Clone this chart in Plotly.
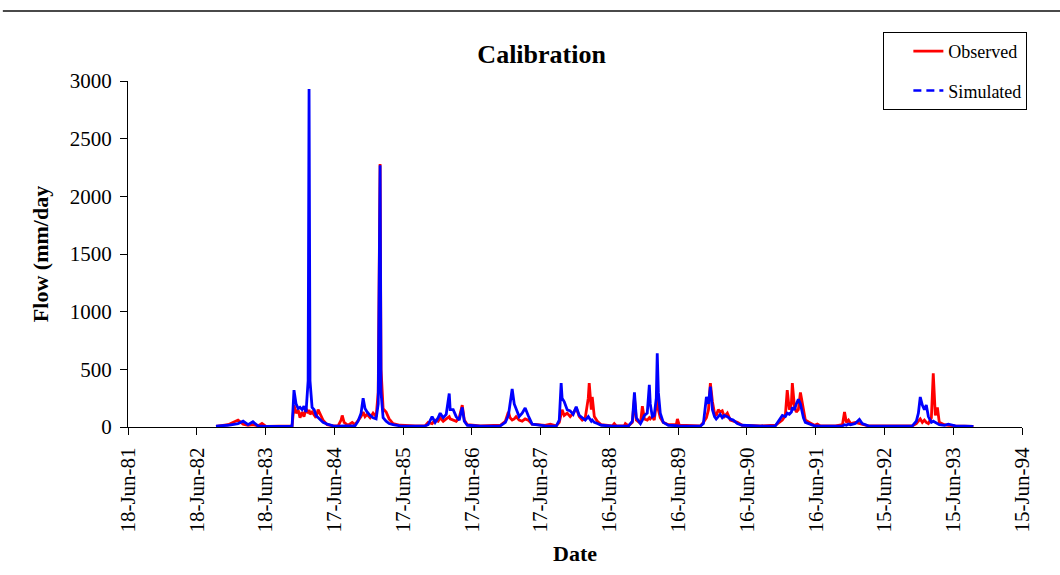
import plotly.graph_objects as go

# ---- data ----
dates = [
    "1982-09-28", "1982-12-01", "1983-01-23", "1983-02-19", "1983-03-17", "1983-04-12",
    "1983-05-09", "1983-05-30", "1983-06-20", "1983-10-25", "1983-11-06", "1983-11-16",
    "1983-11-27", "1983-12-08", "1983-12-18", "1983-12-29", "1984-01-08", "1984-01-19",
    "1984-01-30", "1984-02-04", "1984-02-09", "1984-02-20", "1984-03-02", "1984-03-12",
    "1984-03-23", "1984-04-03", "1984-04-18", "1984-05-10", "1984-06-11", "1984-07-07",
    "1984-07-23", "1984-07-29", "1984-08-08", "1984-08-29", "1984-09-20", "1984-10-05",
    "1984-10-21", "1984-11-06", "1984-11-17", "1984-11-27", "1984-12-08", "1984-12-24",
    "1985-01-09", "1985-01-25", "1985-02-05", "1985-02-15", "1985-02-20", "1985-03-03",
    "1985-03-19", "1985-04-04", "1985-04-25", "1985-06-01", "1985-08-20", "1985-10-12",
    "1985-10-28", "1985-11-18", "1985-12-04", "1985-12-20", "1985-12-31", "1986-01-16",
    "1986-02-01", "1986-02-17", "1986-02-22", "1986-03-10", "1986-03-26", "1986-04-11",
    "1986-04-27", "1986-05-08", "1986-05-24", "1986-08-01", "1986-11-15", "1986-12-12",
    "1986-12-28", "1987-01-06", "1987-01-17", "1987-01-28", "1987-02-07", "1987-02-23",
    "1987-03-11", "1987-03-27", "1987-04-12", "1987-05-03", "1987-07-11", "1987-08-07",
    "1987-09-08", "1987-09-24", "1987-10-04", "1987-10-09", "1987-10-20", "1987-11-05",
    "1987-11-21", "1987-12-07", "1987-12-23", "1988-01-08", "1988-01-24", "1988-02-09",
    "1988-02-25", "1988-03-01", "1988-03-12", "1988-03-17", "1988-03-28", "1988-04-13",
    "1988-05-04", "1988-07-02", "1988-07-12", "1988-07-23", "1988-09-03", "1988-09-09",
    "1988-09-25", "1988-10-16", "1988-10-27", "1988-11-06", "1988-11-28", "1988-12-08",
    "1988-12-19", "1989-01-03", "1989-01-14", "1989-01-19", "1989-01-30", "1989-02-09",
    "1989-02-20", "1989-02-25", "1989-03-03", "1989-03-13", "1989-03-29", "1989-04-25",
    "1989-06-06", "1989-06-12", "1989-06-22", "1989-10-12", "1989-10-28", "1989-11-13",
    "1989-11-24", "1989-12-04", "1989-12-15", "1989-12-26", "1990-01-04", "1990-01-15",
    "1990-01-25", "1990-02-05", "1990-02-16", "1990-03-04", "1990-03-20", "1990-04-04",
    "1990-04-26", "1990-05-22", "1990-08-26", "1990-11-14", "1990-12-05", "1990-12-21",
    "1991-01-06", "1991-01-16", "1991-01-27", "1991-02-07", "1991-02-12", "1991-02-23",
    "1991-03-05", "1991-03-16", "1991-03-27", "1991-04-06", "1991-04-12", "1991-04-22",
    "1991-05-13", "1991-06-09", "1991-06-25", "1991-07-11", "1991-09-29", "1991-11-05",
    "1991-11-16", "1991-11-26", "1991-12-07", "1991-12-18", "1992-01-12", "1992-02-03",
    "1992-02-18", "1992-03-21", "1992-07-16", "1992-11-10", "1992-12-01", "1992-12-12",
    "1992-12-22", "1993-01-02", "1993-01-13", "1993-01-23", "1993-02-03", "1993-02-19",
    "1993-03-01", "1993-03-12", "1993-03-23", "1993-04-02", "1993-04-29", "1993-05-20",
    "1993-06-26", "1993-09-30",
]

observed = [
    5, 20, 60, 25, 15, 20,
    10, 30, 5, 5, 10, 190,
    120, 150, 80, 130, 90, 160,
    120, 150, 110, 130, 100, 80,
    150, 110, 60, 20, 10, 10,
    60, 100, 40, 15, 40, 20,
    60, 90, 130, 90, 110, 80,
    120, 90, 300, 2280, 500, 160,
    130, 70, 30, 15, 10, 10,
    40, 30, 60, 50, 80, 50,
    70, 90, 70, 60, 50, 80,
    190, 60, 20, 10, 15, 50,
    130, 80, 60, 70, 90, 60,
    50, 70, 60, 25, 15, 25,
    10, 40, 100, 150, 100, 120,
    90, 120, 165, 90, 60, 80,
    250, 380, 150, 260, 90, 50,
    20, 10, 30, 10, 10, 30,
    10, 40, 250, 60, 30, 180,
    70, 60, 80, 70, 90, 60,
    200, 300, 150, 80, 40, 20,
    20, 70, 15, 10, 40, 80,
    150, 380, 220, 120, 100, 150,
    130, 140, 90, 120, 60, 50,
    40, 15, 10, 15, 40, 60,
    100, 320, 150, 200, 380, 180,
    130, 150, 300, 200, 180, 60,
    40, 15, 25, 10, 10, 20,
    130, 40, 60, 30, 40, 30,
    20, 10, 10, 10, 30, 50,
    70, 40, 60, 40, 30, 80,
    465, 100, 170, 40, 20, 15,
    10, 5,
]

simulated = [
    8, 15, 30, 50, 20, 45,
    10, 8, 5, 5, 10, 320,
    200, 160, 170, 150, 180, 130,
    400, 2930, 400, 170, 150, 100,
    80, 60, 40, 25, 10, 8,
    10, 15, 10, 10, 10, 10,
    50, 120, 250, 160, 130, 100,
    80, 70, 200, 2270, 300, 80,
    50, 30, 20, 10, 8, 10,
    20, 90, 40, 80, 120, 80,
    110, 290, 150, 150, 90, 60,
    170, 50, 15, 8, 10, 40,
    100, 200, 330, 200, 160, 90,
    120, 165, 100, 25, 10, 10,
    8, 60, 380, 250, 220, 150,
    140, 110, 175, 100, 80, 60,
    90, 80, 50, 60, 40, 30,
    15, 8, 8, 8, 10, 10,
    8, 50, 300, 80, 30, 60,
    100, 120, 365, 200, 90, 100,
    250, 640, 300, 120, 40, 15,
    10, 15, 10, 8, 30, 260,
    200, 350, 150, 90, 70, 90,
    110, 80, 100, 90, 70, 60,
    30, 15, 8, 10, 60, 100,
    90, 120, 110, 130, 170, 150,
    200, 240, 200, 120, 80, 40,
    25, 10, 10, 8, 8, 10,
    20, 15, 25, 20, 30, 65,
    30, 10, 8, 10, 50, 120,
    260, 190, 150, 190, 90, 40,
    50, 40, 30, 20, 15, 25,
    10, 5,
]

tick_dates = [
    "1981-06-18", "1982-06-18", "1983-06-18", "1984-06-17", "1985-06-17",
    "1986-06-17", "1987-06-17", "1988-06-16", "1989-06-16", "1990-06-16",
    "1991-06-16", "1992-06-15", "1993-06-15", "1994-06-15",
]
tick_labels = [
    "18-Jun-81", "18-Jun-82", "18-Jun-83", "17-Jun-84", "17-Jun-85",
    "17-Jun-86", "17-Jun-87", "16-Jun-88", "16-Jun-89", "16-Jun-90",
    "16-Jun-91", "15-Jun-92", "15-Jun-93", "15-Jun-94",
]
y_ticks = [0, 500, 1000, 1500, 2000, 2500, 3000]

RED = "#ff0000"
BLUE = "#0000ff"
FONT = "Liberation Serif"

fig = go.Figure()
fig.add_trace(go.Scatter(
    x=dates, y=observed, mode="lines", name="Observed",
    line=dict(color=RED, width=2.8), legendgroup="obs",
))
fig.add_trace(go.Scatter(
    x=dates, y=simulated, mode="lines", name="Simulated",
    line=dict(color=BLUE, width=2.8), showlegend=False, legendgroup="sim",
))
# legend entry for the simulated series (dashed, as in the reference legend)
fig.add_trace(go.Scatter(
    x=[None], y=[None], mode="lines", name="Simulated",
    line=dict(color=BLUE, width=2.5, dash="8px,5px"), legendgroup="sim",
))

fig.update_layout(
    width=1060, height=575,
    margin=dict(l=128, r=38, t=81, b=148),
    paper_bgcolor="white", plot_bgcolor="white",
    font=dict(family=FONT, color="black", size=21),
    title=dict(text="<b>Calibration</b>", x=0.511, xref="container",
               y=1 - 54 / 575, yref="container", yanchor="middle", xanchor="center",
               font=dict(size=26, family=FONT, color="black")),
    showlegend=True,
    legend=dict(
        x=1.006, xanchor="right", y=1.1416, yanchor="top",
        bordercolor="black", borderwidth=1, bgcolor="white",
        font=dict(size=18, family=FONT, color="black"),
        traceorder="grouped", tracegroupgap=13, indentation=24,
    ),
    shapes=[dict(type="line", xref="paper", yref="paper",
                 x0=-0.14, x1=1.05, y0=1.202, y1=1.202,
                 line=dict(color="#4a4a4a", width=2))],
)

fig.update_xaxes(
    type="date", range=[tick_dates[0], tick_dates[-1]],
    tickmode="array", tickvals=tick_dates, ticktext=tick_labels,
    tickangle=-90, showline=True, linecolor="black", linewidth=1,
    ticks="outside", ticklen=7, tickcolor="black", showgrid=False, zeroline=False,
    ticklabelstandoff=4,
    title=dict(text="<b>Date</b>", font=dict(size=22, family=FONT), standoff=14),
)
fig.update_yaxes(
    range=[0, 3000], tickmode="array", tickvals=y_ticks,
    showline=True, linecolor="black", linewidth=1,
    ticks="outside", ticklen=7, tickcolor="black", showgrid=False, zeroline=False,
    ticklabelstandoff=4,
    title=dict(text="<b>Flow (mm/day</b>", font=dict(size=22, family=FONT), standoff=15),
)

fig.write_html("out.html")
